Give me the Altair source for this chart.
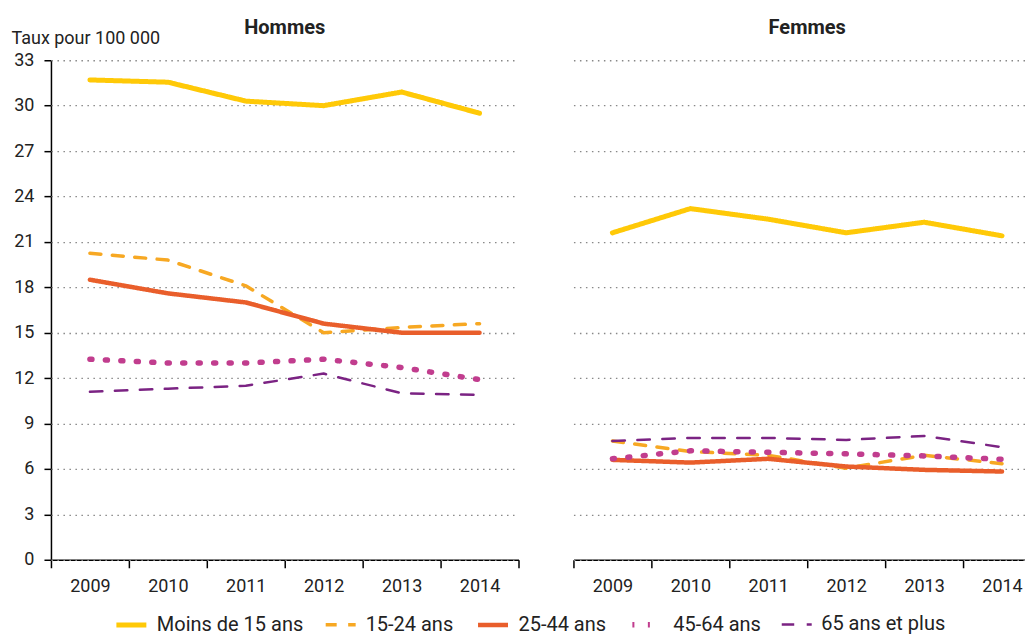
import altair as alt
import pandas as pd

annees = ["2009", "2010", "2011", "2012", "2013", "2014"]
groupes = ["Moins de 15 ans", "15-24 ans", "25-44 ans", "45-64 ans", "65 ans et plus"]
sexes = ["Hommes", "Femmes"]

hommes_moins15 = [31.7, 31.55, 30.3, 30.0, 30.9, 29.5]
hommes_15_24 = [20.25, 19.8, 18.1, 15.0, 15.35, 15.6]
hommes_25_44 = [18.5, 17.6, 17.0, 15.6, 15.0, 15.0]
hommes_45_64 = [13.25, 13.0, 13.0, 13.25, 12.7, 11.9]
hommes_65plus = [11.1, 11.3, 11.5, 12.3, 11.0, 10.9]

femmes_moins15 = [21.6, 23.2, 22.5, 21.6, 22.3, 21.4]
femmes_15_24 = [7.85, 7.15, 6.9, 6.05, 6.9, 6.35]
femmes_25_44 = [6.6, 6.42, 6.67, 6.16, 5.94, 5.83]
femmes_45_64 = [6.67, 7.2, 7.1, 7.0, 6.86, 6.64]
femmes_65plus = [7.85, 8.05, 8.05, 7.92, 8.18, 7.44]

couleurs = ["#FFC907", "#F7A823", "#E95E2B", "#C13D8E", "#7B2383"]
tirets = [[1, 0], [11, 11.5], [1, 0], [2, 13.5], [12.5, 12.5]]
epaisseurs = [5, 3.5, 4.5, 5.5, 2.5]

series = {
    "Hommes": [hommes_moins15, hommes_15_24, hommes_25_44, hommes_45_64, hommes_65plus],
    "Femmes": [femmes_moins15, femmes_15_24, femmes_25_44, femmes_45_64, femmes_65plus],
}

rows = []
for s in sexes:
    for g, vals in zip(groupes, series[s]):
        for a, v in zip(annees, vals):
            rows.append({"Sexe": s, "Groupe": g, "Année": a, "Taux": v})
df = pd.DataFrame(rows)

FONT = "Roboto"

chart = alt.Chart(df).mark_line(strokeCap="round", strokeJoin="round").encode(
    x=alt.X("Année:O", bandPosition=0.5,
            scale=alt.Scale(type="band", paddingInner=0, paddingOuter=0),
            axis=alt.Axis(title=None, labelAngle=0, tickBand="extent", tickSize=8,
                          domainColor="#000", domainWidth=1.5, tickColor="#000", tickWidth=1.5,
                          labelFontSize=18, labelPadding=10, labelColor="#222", grid=False)),
    y=alt.Y("Taux:Q", scale=alt.Scale(domain=[0, 33], nice=False),
            axis=alt.Axis(values=list(range(0, 34, 3)), title="Taux pour 100 000",
                          titleAngle=0, titleAlign="left", titleBaseline="alphabetic",
                          titleX=-40, titleY=-17, titleFontSize=18, titleFontWeight="normal",
                          titleColor="#222",
                          tickSize=7, tickColor="#000", tickWidth=1.5, domainColor="#000",
                          domainWidth=1.5, labelFontSize=18, labelPadding=10, labelColor="#222",
                          grid=True, gridColor="#888", gridDash=[1.5, 4.5], gridWidth=1.3)),
    color=alt.Color("Groupe:N", sort=groupes,
                    scale=alt.Scale(domain=groupes, range=couleurs),
                    legend=alt.Legend(title=None, orient="none", direction="horizontal",
                                      legendX=63, legendY=547,
                                      symbolType="stroke", symbolSize=900, labelFontSize=20,
                                      labelColor="#222", columnPadding=15, labelOffset=8,
                                      labelLimit=300)),
    strokeDash=alt.StrokeDash("Groupe:N", sort=groupes,
                              scale=alt.Scale(domain=groupes, range=tirets), legend=None),
    strokeWidth=alt.StrokeWidth("Groupe:N", sort=groupes,
                                scale=alt.Scale(type="ordinal", domain=groupes, range=epaisseurs),
                                legend=None),
    detail="Groupe:N",
).properties(width=468, height=500).facet(
    column=alt.Column("Sexe:N", sort=sexes, title=None,
                      header=alt.Header(labelFontSize=20, labelFontWeight="bold",
                                        labelColor="#222", labelPadding=22)),
    spacing=55,
).configure(font=FONT, padding={"left": 3, "top": 10, "right": -17, "bottom": 0}).configure_view(stroke=None)

chart.save("out.html", embed_options={"renderer": "svg", "actions": False})
